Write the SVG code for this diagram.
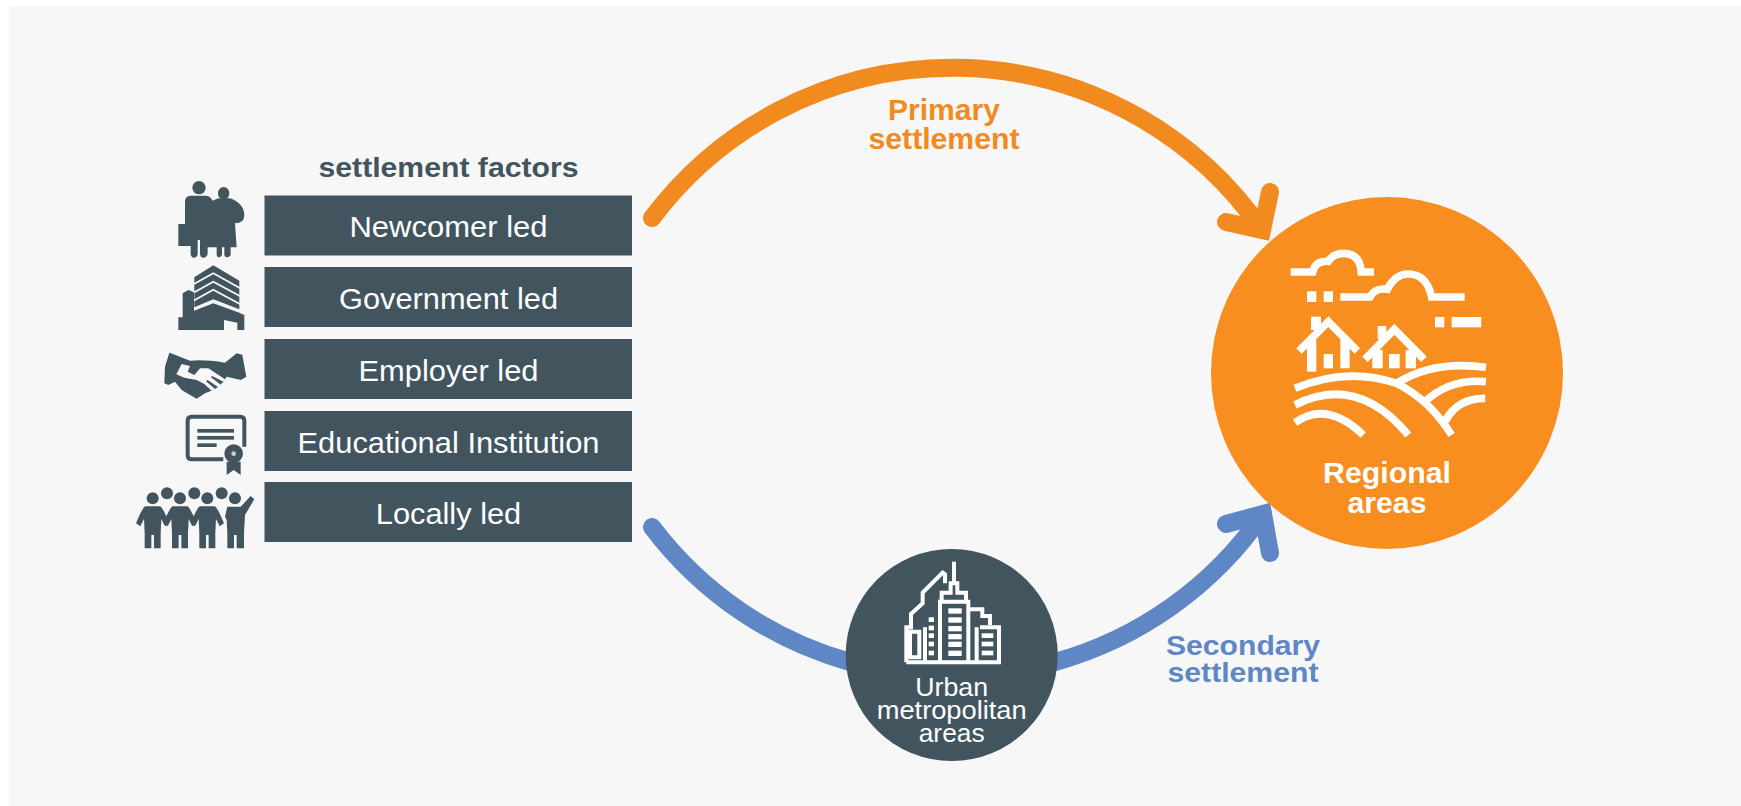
<svg xmlns="http://www.w3.org/2000/svg" width="1741" height="806" viewBox="0 0 1741 806">
<style>
text{font-family:"Liberation Sans",Arial,sans-serif;text-anchor:middle}
.box{fill:#42555f}
.bl{fill:#fff;font-size:29.500px}
.dk{fill:#42555f}
.or{fill:#f18a1f;font-size:29px;font-weight:bold}
.bu{fill:#5f87c5;font-size:28.500px;font-weight:bold}
.wb{fill:#fff;font-size:29px;font-weight:bold}
.ws{fill:#fff;font-size:26px}
.arcO{fill:none;stroke:#f18a1f;stroke-width:18;stroke-linecap:round;stroke-linejoin:miter}
.arcB{fill:none;stroke:#5f87c5;stroke-width:18;stroke-linecap:round;stroke-linejoin:miter}
.wl{fill:none;stroke:#fff;stroke-width:23}
.cl{fill:none;stroke:#fff;stroke-width:12}
.w{fill:#fff}
</style>
<defs>
<path id="person" d="M-22,24H22Q30,26 50,75L37,84L26,62L24,105V150H4V110H-4V150H-24V105L-26,62L-37,84L-50,75Q-30,26 -22,24Z"/>
</defs>
<rect width="1741" height="806" fill="#fff"/>
<rect x="9" y="6" width="1732" height="800" fill="#f7f7f7"/>
<g id="connectors">
<path class="arcO" d="M652,218A376,376 0 0 1 1262,230"/>
<polyline class="arcO" points="1270,192 1262,230 1226,222"/>
<path class="arcB" d="M652,527A375,375 0 0 0 850,662"/>
<path class="arcB" d="M1055,662A375,375 0 0 0 1263,514"/>
<polyline class="arcB" points="1226,524 1263,514 1270,553"/>
</g>
<g id="factors-title"><text class="dk" x="448.500" y="177" font-size="28" font-weight="bold" textLength="260" lengthAdjust="spacingAndGlyphs">settlement factors</text></g>
<g id="newcomer">
<rect class="box" x="264.500" y="195.500" width="367.500" height="60"/>
<text class="bl" x="448.500" y="237" textLength="198" lengthAdjust="spacingAndGlyphs">Newcomer led</text>
<g class="dk" transform="translate(120,160) scale(.3333)">
<circle cx="237" cy="83" r="20"/><ellipse cx="311" cy="100" rx="17" ry="19"/>
<path d="M195,125Q195,107 212,107H258Q270,107 278,122L295,115H330Q372,130 373,165Q373,190 345,190L350,262H332V285Q328,293 320,292Q315,292 313,285V262H306V285Q302,293 295,292Q290,290 290,285V262H263V282Q260,293 250,293Q241,293 240,282V240H233V282Q231,293 222,293Q213,293 212,282V258H175V192H195Z"/>
</g>
</g>
<g id="government">
<rect class="box" x="264.500" y="267" width="367.500" height="60"/>
<text class="bl" x="448.500" y="309" textLength="219" lengthAdjust="spacingAndGlyphs">Government led</text>
<g class="dk" transform="translate(120,160) scale(.3333)">
<path d="M223,352L280,316L358,362V380L280,337L223,368Z"/>
<path d="M223,374L280,343L358,386V404L280,362L223,394Z"/>
<path d="M223,400L280,368L358,410V428L280,386L223,418Z"/>
<path d="M223,424L280,392L358,434V448L280,418L223,442Z"/>
<path d="M188,400L205,390L222,397V452L280,430L358,458L373,465V510H352V488L312,480V510H175V472H188Z"/>
</g>
</g>
<g id="employer">
<rect class="box" x="264.500" y="339" width="367.500" height="60"/>
<text class="bl" x="448.500" y="381" textLength="180" lengthAdjust="spacingAndGlyphs">Employer led</text>
<g transform="translate(155,340) scale(.3333)">
<path class="dk" d="M43,38L60,44L105,62Q150,58 210,68L245,40L262,44L274,110L258,120L215,110L205,125L190,140L175,150L150,160L125,176L105,165L80,150L60,125L40,135L28,130L30,80Z"/>
<path fill="#f7f7f7" d="M80,72L105,78L98,95L118,105L135,85H160L210,118L205,125L172,108L168,112L198,135L190,142L158,120L153,124L180,147L170,152L148,132L125,120L88,113L64,103Z"/>
</g>
</g>
<g id="education">
<rect class="box" x="264.500" y="411" width="367.500" height="60"/>
<text class="bl" x="448.500" y="453" textLength="302" lengthAdjust="spacingAndGlyphs">Educational Institution</text>
<g transform="translate(120,360) scale(.3333)">
<path fill="none" stroke="#42555f" stroke-width="12" d="M310,298H215Q203,298 203,286V182Q203,170 215,170H361Q373,170 373,182V260"/>
<g class="dk"><rect x="232" y="207" width="110" height="11"/><rect x="232" y="228" width="110" height="11"/><rect x="232" y="250" width="58" height="11"/>
<circle cx="341" cy="281" r="28"/><path d="M320,305H362V345L341,330L320,345Z"/></g>
<circle cx="341" cy="281" r="7" fill="#c9d0d4"/>
</g>
</g>
<g id="locally">
<rect class="box" x="264.500" y="482" width="367.500" height="60"/>
<text class="bl" x="448.500" y="524" textLength="145.500" lengthAdjust="spacingAndGlyphs">Locally led</text>
<g class="dk" transform="translate(120,360) scale(.3333)">
<circle cx="98" cy="415" r="18"/><circle cx="180" cy="415" r="18"/><circle cx="262" cy="415" r="18"/><circle cx="345" cy="415" r="18"/>
<circle cx="141" cy="400" r="18"/><circle cx="223" cy="400" r="18"/><circle cx="305" cy="400" r="18"/>
<use href="#person" x="98" y="415"/><use href="#person" x="180" y="415"/><use href="#person" x="262" y="415"/>
<path d="M322,440H362L392,408L403,418L375,465L372,520V565H350V525H342V565H322V520L320,480L315,470Z"/>
</g>
</g>
<g id="regional">
<circle cx="1387" cy="373" r="176" fill="#f78e1f"/>
<g transform="translate(1200,170) scale(.3333)">
<path class="wl" d="M272,306H338Q345,272 385,274Q400,250 430,250Q480,250 484,306H522"/>
<path class="wl" d="M421,381H510Q525,352 562,358Q585,312 625,312Q680,312 695,381H794"/>
<g class="w"><rect x="321" y="364" width="28" height="32"/><rect x="371" y="364" width="28" height="32"/><rect x="705" y="441" width="28" height="31"/><rect x="755" y="441" width="89" height="31"/>
<rect x="333" y="440" width="30" height="40"/><rect x="321" y="510" width="28" height="95"/><rect x="421" y="510" width="28" height="85"/><rect x="371" y="552" width="28" height="43"/>
<rect x="533" y="468" width="26" height="40"/><rect x="517" y="540" width="31" height="55"/><rect x="617" y="540" width="31" height="55"/><rect x="567" y="552" width="32" height="43"/></g>
<path class="wl" d="M297,543L385,455L472,543M495,568L583,478L672,568"/>
<path class="wl" d="M285,655Q440,590 590,640Q690,690 755,795M590,640Q700,570 858,592M675,695Q750,625 858,635M735,755Q770,685 856,685M285,705Q470,610 625,795M285,758Q380,690 490,795"/>
</g>
<text class="wb" x="1387" y="483" textLength="128" lengthAdjust="spacingAndGlyphs">Regional</text>
<text class="wb" x="1387" y="513" textLength="79" lengthAdjust="spacingAndGlyphs">areas</text>
</g>
<g id="urban">
<circle cx="951.700" cy="655" r="106" fill="#42555f"/>
<g transform="translate(830,540) scale(.3333)">
<path class="cl" d="M229,367H507V262H450M229,367V262H243V222L278,190V158L338,98L345,103V130M335,185V158H362V130H382V158H408V185M330,367V185H415V367M415,208H457V228H480V255M240,275H268V352H240ZM285,262V367M440,262V367"/>
<path class="cl" d="M372,65V130"/>
<g class="w"><rect x="355" y="205" width="40" height="16"/><rect x="355" y="232" width="40" height="16"/><rect x="355" y="258" width="40" height="16"/><rect x="355" y="282" width="40" height="16"/><rect x="355" y="305" width="40" height="16"/><rect x="355" y="332" width="40" height="16"/>
<rect x="296" y="232" width="16" height="14"/><rect x="296" y="257" width="16" height="14"/><rect x="296" y="280" width="16" height="14"/><rect x="296" y="305" width="16" height="14"/><rect x="296" y="332" width="16" height="14"/>
<rect x="455" y="280" width="35" height="14"/><rect x="455" y="305" width="35" height="14"/><rect x="455" y="332" width="35" height="14"/></g>
</g>
<text class="ws" x="951.700" y="696" textLength="73" lengthAdjust="spacingAndGlyphs">Urban</text>
<text class="ws" x="951.700" y="719" textLength="150" lengthAdjust="spacingAndGlyphs">metropolitan</text>
<text class="ws" x="951.700" y="742" textLength="66" lengthAdjust="spacingAndGlyphs">areas</text>
</g>
<g id="primary-label"><text class="or" x="944" y="120" textLength="112" lengthAdjust="spacingAndGlyphs">Primary</text><text class="or" x="944" y="149" textLength="151" lengthAdjust="spacingAndGlyphs">settlement</text></g>
<g id="secondary-label"><text class="bu" x="1243" y="655" textLength="154" lengthAdjust="spacingAndGlyphs">Secondary</text><text class="bu" x="1243" y="682" textLength="151" lengthAdjust="spacingAndGlyphs">settlement</text></g>
</svg>
